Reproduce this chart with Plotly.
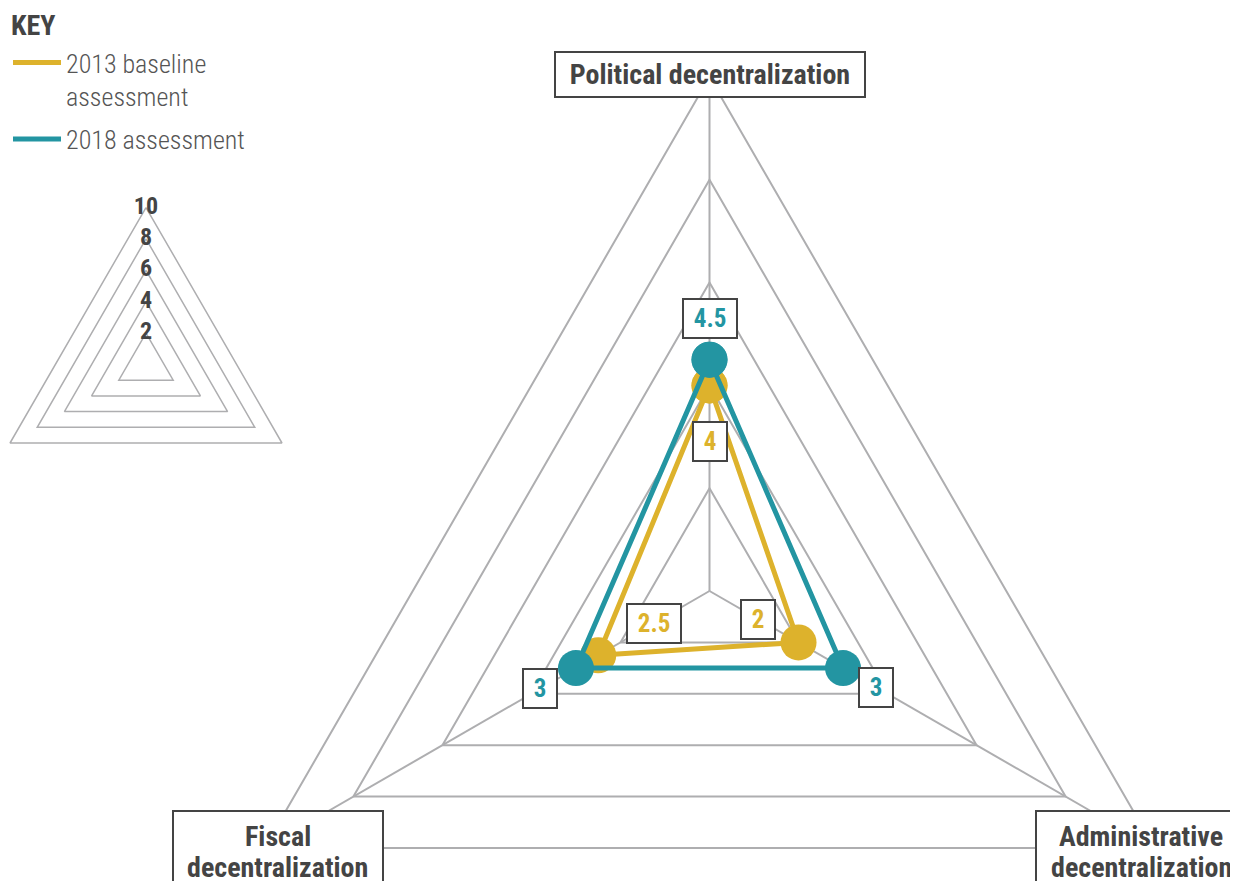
import math
import plotly.graph_objects as go

# ---------------- data ----------------
categories = ["Political decentralization", "Administrative decentralization", "Fiscal decentralization"]
values_2013 = [4, 2, 2.5]
values_2018 = [4.5, 3, 3]
labels_2013 = ["4", "2", "2.5"]
labels_2018 = ["4.5", "3", "3"]
series_names = ["2013 baseline<br>assessment", "2018 assessment"]
ring_values = [2, 4, 6, 8, 10]
ring_labels = ["2", "4", "6", "8", "10"]

# ---------------- style ----------------
GOLD = "#DDB22C"
TEAL = "#2395A2"
GRID = "#AEAEB0"
DARK = "#444444"
TXT = "#555555"
FONT = "Roboto Condensed, Liberation Sans Narrow, Roboto, sans-serif"

W, H = 1238, 1100
CX, CY, R = 701.5, 583.0, 514.0          # main radar centre / radius (figure px)
KX, KY, KR = 138.0, 356.5, 157.0         # key triangle centre / radius (figure px)
KBOX = (0.0, 180.0, 300.0, 460.0)        # key axes box: left, top, right, bottom
RMAX = 10

# label offsets along each spoke (data units), styling only
off_2013 = [-1.1, -0.9, -1.25]
off_2018 = [0.8, 0.75, 0.8]


def dom_x(c, r):
    return [(c - r) / W, (c + r) / W]


def dom_y(c, r):
    return [1 - (c + r) / H, 1 - (c - r) / H]


def ang(i):
    return math.radians(90 - i * 360 / len(categories))


def to_xy(r, i):
    return r * math.cos(ang(i)), r * math.sin(ang(i))


fig = go.Figure()

# main data
for vals, col in [(values_2013, GOLD), (values_2018, TEAL)]:
    fig.add_trace(go.Scatterpolar(
        r=vals + vals[:1], theta=categories + categories[:1], subplot="polar",
        mode="lines+markers", line=dict(color=col, width=5),
        marker=dict(size=36, color=col), showlegend=False, hoverinfo="skip"))

# legend entries
for k, (name, col) in enumerate(zip(series_names, [GOLD, TEAL])):
    fig.add_trace(go.Scatterpolar(r=[None], theta=[None], subplot="polar", mode="lines",
                                  line=dict(color=col, width=5), name=name,
                                  legendgroup="g%d" % k))

# key triangles (rings of the scale)
kx, ky = [], []
for v in ring_values:
    for i in list(range(len(categories))) + [0]:
        x, y = to_xy(v, i)
        kx.append(x)
        ky.append(y)
    kx.append(None)
    ky.append(None)
fig.add_trace(go.Scatter(x=kx, y=ky, xaxis="x2", yaxis="y2", mode="lines",
                         line=dict(color=GRID, width=1.5), showlegend=False, hoverinfo="skip"))
fig.add_trace(go.Scatter(x=[0] * len(ring_values), y=ring_values, xaxis="x2", yaxis="y2",
                         mode="text", text=ring_labels, textposition="middle center",
                         textfont=dict(size=24, color=DARK, family=FONT, weight="bold"),
                         showlegend=False, hoverinfo="skip"))

ann = []
# value labels
for vals, labs, offs, col in [(values_2013, labels_2013, off_2013, GOLD),
                              (values_2018, labels_2018, off_2018, TEAL)]:
    for i, (v, lab, o) in enumerate(zip(vals, labs, offs)):
        x, y = to_xy(v + o, i)
        ann.append(dict(x=x, y=y, xref="x", yref="y", text="&nbsp;<b>%s</b>&nbsp;" % lab,
                        showarrow=False, font=dict(size=25, color=col, family=FONT),
                        bordercolor=DARK, borderwidth=2, borderpad=4, bgcolor="white"))

# category labels
x0, y0 = to_xy(RMAX, 0)
ann.append(dict(x=x0, y=y0, xref="x", yref="y", yshift=2.5, showarrow=False,
                text="<b>%s</b>" % categories[0], font=dict(size=28, color=DARK, family=FONT),
                width=300, height=35, borderpad=4, borderwidth=2, bordercolor=DARK, bgcolor="white"))
for i, sx in [(1, -13.6), (2, 13.6)]:
    x, y = to_xy(RMAX, i)
    words = categories[i].split(" ")
    ann.append(dict(x=x, y=y, xref="x", yref="y", xshift=sx, yshift=-5, showarrow=False,
                    text=" ", width=200, height=74, borderpad=4, borderwidth=2,
                    bordercolor=DARK, bgcolor="white"))
    ann.append(dict(x=x, y=y, xref="x", yref="y", xshift=sx, yshift=12, showarrow=False,
                    text="<b>%s</b>" % words[0], font=dict(size=28, color=DARK, family=FONT)))
    ann.append(dict(x=x, y=y, xref="x", yref="y", xshift=sx, yshift=-19, showarrow=False,
                    text="<b>%s</b>" % words[1], font=dict(size=28, color=DARK, family=FONT)))

# key title
ann.append(dict(x=1 / W, y=1 - 17 / H, xref="paper", yref="paper", xanchor="left",
                yanchor="middle", showarrow=False, text="<b>KEY</b>",
                font=dict(size=28, color=DARK, family=FONT)))

kl, kt, kr, kb = KBOX
s = KR / RMAX
fig.update_layout(
    width=W, height=H, margin=dict(l=0, r=0, t=0, b=0),
    paper_bgcolor="white", plot_bgcolor="rgba(0,0,0,0)",
    polar=dict(
        domain=dict(x=dom_x(CX, R), y=dom_y(CY, R)), bgcolor="rgba(0,0,0,0)", gridshape="linear",
        radialaxis=dict(range=[0, RMAX], tickvals=ring_values, showticklabels=False, ticks="",
                        showline=False, gridcolor=GRID, gridwidth=2),
        angularaxis=dict(rotation=90, direction="clockwise", showticklabels=False, ticks="",
                         showline=True, linecolor=GRID, linewidth=2, gridcolor=GRID, gridwidth=2,
                         categoryorder="array", categoryarray=categories)),
    xaxis=dict(domain=dom_x(CX, R), range=[-RMAX, RMAX], visible=False, fixedrange=True),
    yaxis=dict(domain=dom_y(CY, R), range=[-RMAX, RMAX], visible=False, fixedrange=True),
    xaxis2=dict(domain=[kl / W, kr / W], range=[(kl - KX) / s, (kr - KX) / s],
                visible=False, fixedrange=True),
    yaxis2=dict(domain=[1 - kb / H, 1 - kt / H], range=[(KY - kb) / s, (KY - kt) / s],
                visible=False, fixedrange=True),
    legend=dict(x=0, y=1 - 31 / H, xanchor="left", yanchor="top", bgcolor="rgba(0,0,0,0)",
                font=dict(size=26, color=TXT, family=FONT, weight=300),
                itemwidth=48, valign="top", tracegroupgap=6),
    annotations=ann,
)

fig.write_html("out.html")
